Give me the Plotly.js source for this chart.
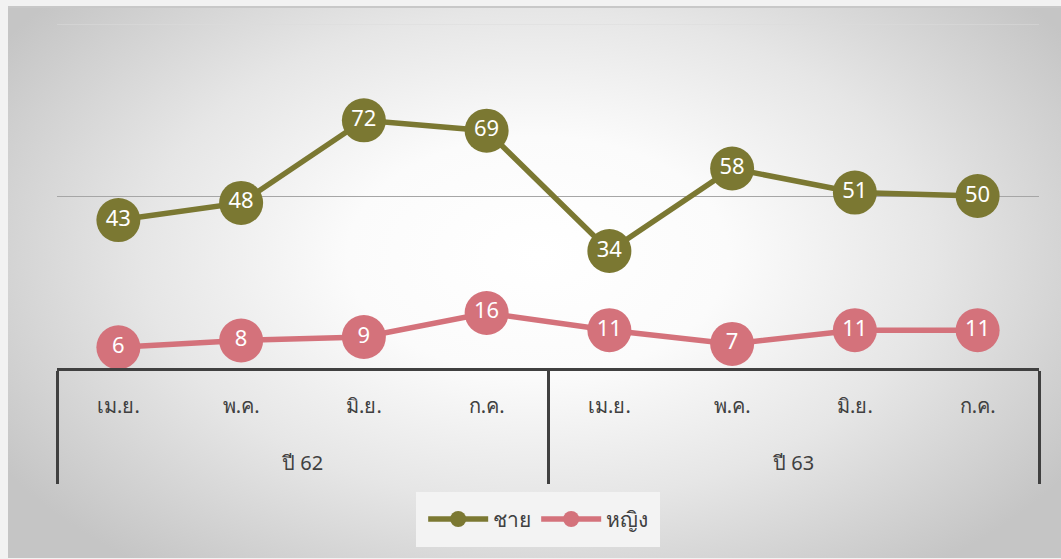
<!DOCTYPE html>
<html>
<head>
<meta charset="utf-8">
<script src="https://cdn.plot.ly/plotly-3.0.1.min.js"></script>
<style>
  html, body { margin:0; padding:0; background:#f2f2f2; width:1061px; height:559px; overflow:hidden; }
  #bg { position:absolute; left:8px; top:6px; width:1060px; height:550px;
        background: radial-gradient(ellipse 60% 72% at 50% 45%, #ffffff 0%, #fbfbfb 30%, #e6e6e6 62%, #c5c5c5 100%);
        border-top:2px solid #c8c8c8; }
  #chart { position:absolute; left:0; top:0; width:1061px; height:559px; }
</style>
</head>
<body>
<div id="bg"></div>
<div id="chart"></div>
<script>
const years  = ["ปี 62","ปี 62","ปี 62","ปี 62","ปี 63","ปี 63","ปี 63","ปี 63"];
const months = ["เม.ย.","พ.ค.","มิ.ย.","ก.ค.","เม.ย.","พ.ค.","มิ.ย.","ก.ค."];
const male   = [43, 48, 72, 69, 34, 58, 51, 50];
const female = [6, 8, 9, 16, 11, 7, 11, 11];
const seriesNames = ["ชาย", "หญิง"];

const FONT = "'Noto Sans', 'DejaVu Sans', sans-serif";
const olive = "#7b7832";
const pink = "#d4727b";

// category positions and year-group geometry derived from the arrays
const idx = months.map((_, i) => i);
const groupNames = [];
const groupStart = [];
years.forEach((y, i) => { if (i === 0 || years[i - 1] !== y) { groupNames.push(y); groupStart.push(i); } });
const groupEnd = groupStart.slice(1).map(s => s - 1).concat([years.length - 1]);
const groupCenters = groupStart.map((s, k) => (s + groupEnd[k]) / 2);
const dividers = groupStart.map(s => s - 0.5).concat([years.length - 0.5]);
const xRange = [-0.5, months.length - 0.5];

function trace(vals, name, color) {
  return {
    type: "scatter",
    mode: "lines+markers+text",
    x: idx,
    y: vals,
    name: name,
    text: vals.map(String),
    textposition: "middle center",
    textfont: {family: FONT, size: 22, color: "#ffffff"},
    line: {color: color, width: 5.5},
    marker: {color: color, size: 44},
    cliponaxis: false,
    hoverinfo: "skip"
  };
}

const data = [trace(male, seriesNames[0], olive), trace(female, seriesNames[1], pink)];

const yearAnnotations = groupNames.map((g, k) => ({
  text: g, x: groupCenters[k], xref: "x",
  y: -0.276, yref: "paper", yanchor: "middle", xanchor: "center",
  showarrow: false,
  font: {family: FONT, size: 20, color: "#404040"}
}));

const layout = {
  width: 1061, height: 559,
  margin: {l: 57, r: 22, t: 24, b: 191},
  paper_bgcolor: "rgba(0,0,0,0)",
  plot_bgcolor: "rgba(0,0,0,0)",
  font: {family: FONT, color: "#404040"},
  showlegend: true,
  xaxis: {
    range: xRange,
    tickmode: "array", tickvals: idx, ticktext: months,
    showline: true, linecolor: "#404040", linewidth: 3,
    showgrid: false, zeroline: false,
    ticks: "",
    ticklabelstandoff: 18,
    tickfont: {family: FONT, size: 20, color: "#404040"},
    minor: {
      tickmode: "array", tickvals: dividers,
      ticks: "outside", ticklen: 113, tickwidth: 3, tickcolor: "#404040",
      showgrid: false
    },
    fixedrange: true
  },
  yaxis: {
    range: [0, 100],
    tickvals: [50],
    showticklabels: false,
    showgrid: true, gridcolor: "#a6a6a6", gridwidth: 1,
    zeroline: false, showline: false,
    fixedrange: true
  },
  annotations: yearAnnotations,
  shapes: [{
    type: "line", xref: "paper", yref: "y", x0: 0, x1: 1, y0: 100, y1: 100,
    line: {color: "#dcdcdc", width: 1}, layer: "below"
  }],
  legend: {
    orientation: "h",
    x: 0.49, xanchor: "center",
    y: -0.36, yanchor: "top",
    bgcolor: "#f3f3f3",
    bordercolor: "#f3f3f3", borderwidth: 7,
    font: {family: FONT, size: 21, color: "#404040"},
    itemwidth: 60
  }
};

Plotly.newPlot("chart", data, layout, {displayModeBar: false, staticPlot: true});
</script>
</body>
</html>
